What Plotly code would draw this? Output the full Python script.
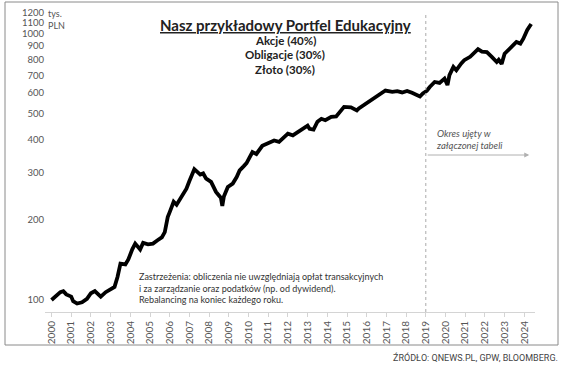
import plotly.graph_objects as go

# ---- data ----
years = [2000.0, 2000.25, 2000.45, 2000.6, 2000.75, 2001.0, 2001.1, 2001.3, 2001.55, 2001.8,
         2002.0, 2002.2, 2002.35, 2002.5, 2002.75, 2003.0, 2003.2, 2003.35, 2003.5, 2003.75,
         2003.9, 2004.1, 2004.25, 2004.5, 2004.65, 2004.9, 2005.15, 2005.4, 2005.6, 2005.75,
         2005.9, 2006.0, 2006.2, 2006.35, 2006.55, 2006.85, 2007.0, 2007.25, 2007.4, 2007.55,
         2007.7, 2007.85, 2008.1, 2008.35, 2008.5, 2008.6, 2008.67, 2008.75, 2008.95, 2009.2,
         2009.4, 2009.55, 2009.75, 2009.9, 2010.2, 2010.4, 2010.7, 2011.05, 2011.3, 2011.55,
         2011.8, 2012.0, 2012.25, 2012.6, 2012.85, 2013.0, 2013.1, 2013.3, 2013.5, 2013.7,
         2013.9, 2014.2, 2014.45, 2014.65, 2014.85, 2015.2, 2015.5, 2015.6, 2015.85, 2016.2,
         2016.55, 2016.95, 2017.3, 2017.55, 2017.8, 2018.05, 2018.3, 2018.5, 2018.7, 2018.85,
         2019.05, 2019.2, 2019.45, 2019.7, 2019.95, 2020.1, 2020.2, 2020.4, 2020.55, 2020.8,
         2020.95, 2021.25, 2021.5, 2021.65, 2021.85, 2022.1, 2022.35, 2022.6, 2022.7, 2022.85,
         2023.0, 2023.2, 2023.45, 2023.6, 2023.8, 2023.95, 2024.15, 2024.35]
values = [100, 104, 107, 108, 105, 103, 99, 97, 98, 101,
          106, 108, 105, 103, 107, 110, 112, 122, 137, 136,
          142, 155, 163, 155, 164, 162, 163, 168, 172, 180,
          205, 214, 234, 228, 242, 262, 280, 310, 303, 296,
          299, 286, 278, 255, 247, 242, 226, 245, 266, 274,
          290, 307, 318, 327, 360, 354, 380, 392, 398, 393,
          408, 422, 416, 434, 446, 452, 440, 437, 468, 480,
          474, 488, 490, 510, 532, 530, 516, 525, 540, 563,
          588, 613, 606, 610, 603, 611, 601, 592, 582, 598,
          612, 632, 660, 655, 680, 643, 700, 752, 731, 775,
          797, 821, 855, 877, 858, 855, 820, 785, 800, 772,
          843, 877, 910, 933, 920, 960, 1035, 1090]

x_ticks = list(range(2000, 2025))
x_tick_labels = [str(y) for y in x_ticks]
y_ticks = [100, 200, 300, 400, 500, 600, 700, 800, 900, 1000, 1100, 1200]
y_tick_labels = [str(v) for v in y_ticks]

FONT = "Lato"
GRAY = "#555555"

# plot area in pixels
L, R, T, B = 45, 535, 8, 312
W, H = 564, 371

def px(p):  # pixel x -> paper
    return (p - L) / (R - L)

def py(p):  # pixel y -> paper
    return (B - p) / (B - T)

fig = go.Figure()
fig.add_trace(go.Scatter(x=years, y=values, mode="lines",
                         line=dict(color="black", width=3.8), hoverinfo="skip"))

x0 = 2000 + (L - 51.5) / 19.7
x1 = 2000 + (R - 51.5) / 19.7
ylo = 2 + (300 - B) / 266
yhi = 2 + (300 - T) / 266

fig.update_layout(
    width=W, height=H,
    margin=dict(l=L, r=W - R, t=T, b=H - B),
    paper_bgcolor="white", plot_bgcolor="white",
    showlegend=False,
    font=dict(family=FONT, color=GRAY, size=9.5),
    xaxis=dict(range=[x0, x1], tickvals=x_ticks, ticktext=x_tick_labels,
               tickangle=-90, showgrid=False, zeroline=False, showline=True,
               linecolor="#d4d4d4", ticks="outside", ticklen=4, tickcolor="#d4d4d4",
               tickfont=dict(family=FONT, size=10, color=GRAY)),
    yaxis=dict(type="log", range=[ylo, yhi], tickvals=y_ticks, ticktext=y_tick_labels,
               showgrid=False, zeroline=False, showline=False, ticks="",
               tickfont=dict(family=FONT, size=9.5, color=GRAY)),
)

# frame
fig.add_shape(type="rect", xref="paper", yref="paper",
              x0=px(5), x1=px(558), y0=py(345), y1=py(2),
              line=dict(color="#8a8a8a", width=1))
# dashed vertical line at 2019
fig.add_shape(type="line", xref="x", yref="paper", x0=2019, x1=2019,
              y0=0, y1=py(15), line=dict(color="#aaaaaa", width=1, dash="dot"))

ann = []
ann.append(dict(text="<b><u>Nasz przykładowy Portfel Edukacyjny</u></b>",
                x=px(285), y=py(25), font=dict(size=15, color="#222222")))
ann.append(dict(text="<b>Akcje (40%)</b>", x=px(285), y=py(41), font=dict(size=11.5, color="#222222")))
ann.append(dict(text="<b>Obligacje (30%)</b>", x=px(285), y=py(55), font=dict(size=11.5, color="#222222")))
ann.append(dict(text="<b>Złoto (30%)</b>", x=px(285), y=py(69), font=dict(size=11.5, color="#222222")))
ann.append(dict(text="tys.<br>PLN", x=px(46), y=py(19), xanchor="left",
                align="left", font=dict(size=9, color=GRAY)))
ann.append(dict(text="<i>Okres ujęty w<br>załączonej tabeli</i>", x=px(434), y=py(139),
                xanchor="left", align="left", font=dict(size=9.5, color=GRAY)))
ann.append(dict(text="Zastrzeżenia: obliczenia nie uwzględniają opłat transakcyjnych<br>"
                     "i za zarządzanie oraz podatków (np. od dywidend).<br>"
                     "Rebalancing na koniec każdego roku.",
                x=px(137), y=py(288), xanchor="left", align="left",
                font=dict(size=9, color="#333333")))
ann.append(dict(text="ŹRÓDŁO: QNEWS.PL, GPW, BLOOMBERG.", x=px(560), y=py(357),
                xanchor="right", font=dict(family="Roboto", size=9, color="#444444")))
for a in ann:
    a.setdefault("xref", "paper")
    a.setdefault("yref", "paper")
    a.setdefault("showarrow", False)
    a.setdefault("xanchor", "center")
    a.setdefault("yanchor", "middle")
    fig.add_annotation(**a)

# arrow
fig.add_annotation(x=2024.25, y=py(155), xref="x", yref="paper",
                   ax=-103, ay=0, axref="pixel", ayref="pixel",
                   showarrow=True, arrowhead=2, arrowsize=1, arrowwidth=1,
                   arrowcolor="#b0b0b0", text="")

fig.write_html("out.html", config={"displayModeBar": False},
               post_script="document.body.style.margin='0';document.body.style.padding='0';"
                           "document.body.style.overflow='hidden';")
